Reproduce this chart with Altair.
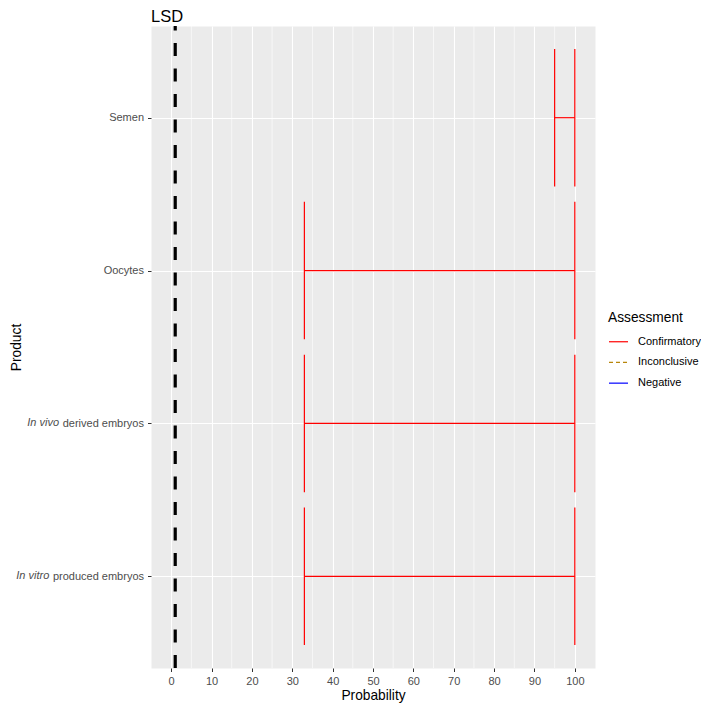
import altair as alt
import pandas as pd

# ---- data ----
products = ["Semen", "Oocytes", "In vivo derived embryos", "In vitro produced embryos"]
italic_parts = ["", "", "In vivo", "In vitro"]
plain_parts = ["Semen", "Oocytes", "derived embryos", "produced embryos"]
positions = [1, 2, 3, 4]
lower = [95, 33, 33, 33]
upper = [100, 100, 100, 100]
assessment = ["Confirmatory", "Confirmatory", "Confirmatory", "Confirmatory"]
assessment_levels = ["Confirmatory", "Inconclusive", "Negative"]
level_colors = ["red", "#B8860B", "blue"]
level_dashes = [[2000, 1], [4, 3], [2000, 1]]
threshold = [1]
x_major = [0, 10, 20, 30, 40, 50, 60, 70, 80, 90, 100]
x_minor = [5, 15, 25, 35, 45, 55, 65, 75, 85, 95]
bar_width = 0.9

W, H = 444, 642
PAD_L, PAD_T = 143, 18
SVG_W, SVG_H = 693, 695
FONT = "Liberation Sans"

df = pd.DataFrame({
    "product": products,
    "pos": positions,
    "lower": lower,
    "upper": upper,
    "assessment": assessment,
    "italic": italic_parts,
})
df["y_lo"] = df["pos"] - bar_width / 2
df["y_hi"] = df["pos"] + bar_width / 2

minor_df = pd.DataFrame({"v": x_minor})
thr_df = pd.DataFrame({"t": threshold})

xscale = alt.Scale(domain=[-5, 105], nice=False, zero=False)
yscale = alt.Scale(domain=[0.4, 4.6], nice=False, zero=False, reverse=True)

label_expr = "[" + ",".join("'" + p + "'" for p in plain_parts) + "][datum.value - 1]"

xaxis = alt.Axis(values=x_major, title="Probability", labelPadding=4, format="d",
                 titleY=31.5, titleBaseline="alphabetic", titleX=W / 2, titleAlign="center")
yaxis = alt.Axis(values=positions, title="Product", labelExpr=label_expr, labelPadding=4,
                 titleX=-135, titleY=H / 2, titleAngle=270, titleAlign="center",
                 titleBaseline="middle")


def X(field):
    return alt.X(field, type="quantitative", scale=xscale, axis=xaxis)


def Y(field):
    return alt.Y(field, type="quantitative", scale=yscale, axis=yaxis)


legend = alt.Legend(orient="none", legendX=457, legendY=284.5, symbolType="stroke",
                    symbolSize=361, symbolStrokeWidth=1.2, labelOffset=9, rowPadding=4.7,
                    titlePadding=7, padding=0, titleFontSize=13.75, labelFontSize=11,
                    titleFontWeight="normal", titleColor="black", labelColor="black",
                    title="Assessment", titleFont=FONT, labelFont=FONT)

color = alt.Color("assessment:N", scale=alt.Scale(domain=assessment_levels, range=level_colors),
                  legend=legend)
dash = alt.StrokeDash("assessment:N", scale=alt.Scale(domain=assessment_levels, range=level_dashes),
                      legend=legend)

minor = alt.Chart(minor_df).mark_rule(color="white", strokeWidth=0.6).encode(x=X("v"))

thr = alt.Chart(thr_df).mark_rule(color="black", strokeWidth=3.2, strokeDash=[13, 12.5]).encode(
    x=X("t"), y=alt.value(H), y2=alt.value(0))

hbar = alt.Chart(df).mark_rule(strokeWidth=1.2).encode(
    x=X("lower"), x2="upper", y=Y("pos"), color=color, strokeDash=dash)

lend = alt.Chart(df).mark_rule(strokeWidth=1.2).encode(
    x=X("lower"), y=Y("y_lo"), y2="y_hi", color=color, strokeDash=dash)

rend = alt.Chart(df).mark_rule(strokeWidth=1.2).encode(
    x=X("upper"), y=Y("y_lo"), y2="y_hi", color=color, strokeDash=dash)


def italic_layer(name, xpx):
    return alt.Chart(df).transform_filter(alt.datum.product == name).mark_text(
        align="right", baseline="middle", fontStyle="italic", fontSize=11,
        font=FONT, color="#4D4D4D").encode(y=Y("pos"), x=alt.value(xpx), text="italic:N")


ital1 = italic_layer(products[2], -91.9)
ital2 = italic_layer(products[3], -101.7)

chart = alt.layer(minor, thr, hbar, lend, rend, ital1, ital2).properties(
    width=W, height=H,
    title=alt.TitleParams("LSD", anchor="start", frame="group", fontSize=16.5,
                          fontWeight="normal", color="black", offset=-1, font=FONT),
    autosize=alt.AutoSizeParams(type="none"),
    padding={"left": PAD_L, "top": PAD_T, "right": SVG_W - PAD_L - W,
             "bottom": SVG_H - PAD_T - H},
).configure(font=FONT).configure_view(fill="#EBEBEB", stroke="transparent").configure_axis(
    grid=True, gridColor="white", gridWidth=1.1, domain=False, tickColor="#333333",
    tickSize=3.5, tickWidth=1, labelFontSize=11, labelColor="#4D4D4D", labelFont=FONT,
    titleFontSize=13.75, titleColor="black", titleFontWeight="normal", titleFont=FONT,
)

chart.save("out.html", embed_options={"renderer": "svg", "actions": False})
